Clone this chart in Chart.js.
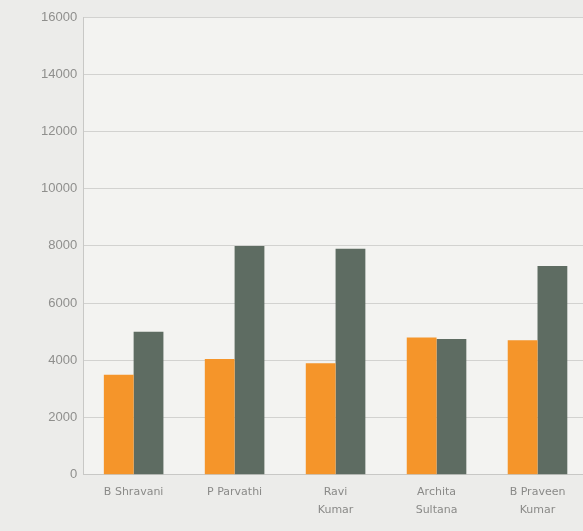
<!DOCTYPE html>
<html lang="en">
<head>
    <meta charset="UTF-8">
    <title>Bar chart</title>
    <script src="https://cdn.jsdelivr.net/npm/chart.js"></script>
    <style>
        body {
            margin: 0;
            overflow: hidden;
            background: #ececea;
        }
        #wrap {
            width: 588px;
            height: 531px;
        }
    </style>
</head>
<body>
    <div id="wrap"><canvas id="barChart" width="588" height="531"></canvas></div>

    <script>
        // names along the x axis
        const names = [
            'B Shravani',
            'P Parvathi',
            ['Ravi', 'Kumar'],
            ['Archita', 'Sultana'],
            ['B Praveen', 'Kumar']
        ];
        // the two series (orange and grey-green)
        const seriesA = [3500, 4050, 3900, 4800, 4700];
        const seriesB = [5000, 8000, 7900, 4750, 7300];
        // y axis
        const yMin = 0;
        const yMax = 16000;
        const yStep = 2000;

        // paint the page and the plot area
        const bgPlugin = {
            id: 'bg',
            beforeDraw(chart) {
                const ctx = chart.ctx;
                const a = chart.chartArea;
                ctx.save();
                ctx.fillStyle = '#ececea';
                ctx.fillRect(0, 0, chart.width, chart.height);
                ctx.fillStyle = '#f3f3f1';
                ctx.fillRect(a.left, a.top, a.right - a.left, a.bottom - a.top);
                ctx.restore();
            }
        };

        const ctx = document.getElementById('barChart').getContext('2d');
        const chart = new Chart(ctx, {
            type: 'bar',
            data: {
                labels: names,
                datasets: [
                    {
                        label: 'A',
                        data: seriesA,
                        backgroundColor: '#f5952a'
                    },
                    {
                        label: 'B',
                        data: seriesB,
                        backgroundColor: '#5e6c62'
                    }
                ]
            },
            options: {
                responsive: false,
                animation: false,
                barPercentage: 1,
                categoryPercentage: 0.59,
                layout: {
                    padding: { top: 17, left: 35, right: 0, bottom: 3 }
                },
                plugins: {
                    legend: { display: false },
                    tooltip: { enabled: false }
                },
                scales: {
                    x: {
                        grid: { display: false, drawTicks: false },
                        border: { color: '#c8c8c6' },
                        ticks: {
                            color: '#8a8a88',
                            padding: 9,
                            maxRotation: 0,
                            font: { family: 'DejaVu Sans', size: 11, lineHeight: 1.6 }
                        }
                    },
                    y: {
                        min: yMin,
                        max: yMax,
                        grid: { color: '#d2d2d0', drawTicks: false },
                        border: { color: '#c8c8c6' },
                        ticks: {
                            stepSize: yStep,
                            color: '#8f8f8d',
                            padding: 6,
                            font: { family: 'Liberation Sans', size: 13 },
                            callback: v => String(v)
                        }
                    }
                }
            },
            plugins: [bgPlugin]
        });
    </script>
</body>
</html>
